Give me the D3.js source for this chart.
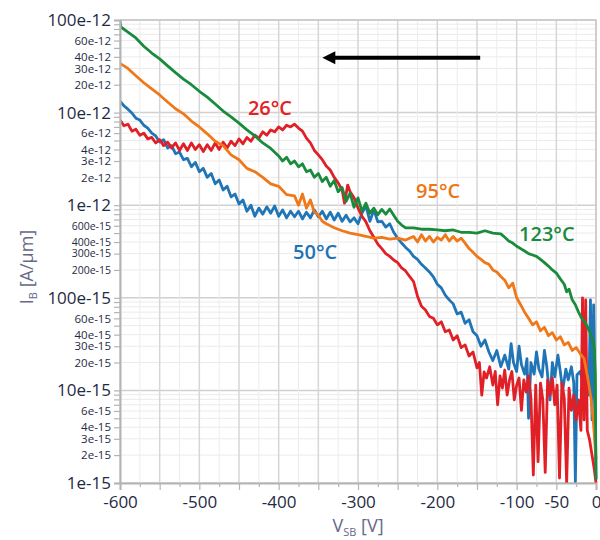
<!DOCTYPE html>
<html><head><meta charset="utf-8">
<script src="https://cdn.jsdelivr.net/npm/d3@7"></script>
<style>body{margin:0;background:#fff}svg{display:block}</style>
</head><body><svg id="c" width="600" height="540"></svg>
<script>
// ---- data (VSB in V, IB in A/um) ----
const green123 = [[-600,9.7e-11],[-599,8.4e-11],[-590,7.4e-11],[-580,6.4e-11],[-570,5.2e-11],[-560,4.4e-11],[-550,3.8e-11],[-540,3.2e-11],[-530,2.7e-11],[-520,2.3e-11],[-510,2.0e-11],[-500,1.7e-11],[-490,1.47e-11],[-480,1.24e-11],[-470,1.04e-11],
[-460,9.0e-12],[-450,7.7e-12],[-440,6.5e-12],[-430,5.6e-12],[-420,4.7e-12],[-410,4.1e-12],[-400,3.4e-12],[-395,3.0e-12],[-390,3.3e-12],[-385,2.8e-12],[-380,3.0e-12],[-375,2.6e-12],[-370,2.8e-12],[-365,2.3e-12],[-360,2.4e-12],[-355,2.0e-12],[-350,2.2e-12],[-345,1.8e-12],[-340,2.0e-12],[-335,1.6e-12],[-330,1.85e-12],
[-325,1.4e-12],[-320,1.55e-12],[-315,1.1e-12],[-310,1.35e-12],[-305,9.5e-13],[-300,1.2e-12],[-295,8.6e-13],[-290,1.05e-12],[-285,8.2e-13],[-280,9.3e-13],[-275,7.9e-13],[-270,9.0e-13],[-265,8.0e-13],[-260,9.1e-13],[-255,7.8e-13],[-250,6.7e-13],[-245,6.1e-13],[-240,5.7e-13],
[-230,5.7e-13],[-220,5.5e-13],[-210,5.5e-13],[-200,5.4e-13],[-190,5.3e-13],[-180,5.4e-13],[-170,5.1e-13],[-160,5.1e-13],[-150,5.0e-13],[-140,5.3e-13],[-130,5.0e-13],[-120,4.9e-13],
[-115,4.5e-13],[-110,4.1e-13],[-105,3.9e-13],[-100,3.6e-13],[-95,3.4e-13],[-90,3.2e-13],[-85,3.0e-13],[-80,2.9e-13],[-75,2.8e-13],[-70,2.6e-13],[-65,2.4e-13],[-60,2.2e-13],[-55,2.0e-13],[-50,1.85e-13],[-45,1.6e-13],[-40,1.4e-13],
[-37,1.16e-13],[-34,1.24e-13],[-30,9.5e-14],[-26,8.4e-14],[-22,7.0e-14],[-18,6.0e-14],[-14,5.5e-14],[-10,4.7e-14],[-7,4.1e-14],[-4,3.5e-14],[-2,2.7e-14],[-1,1.5e-14],[0,1.1e-15]];

const orange95 = [[-600,3.4e-11],[-590,3.0e-11],[-580,2.5e-11],[-570,2.1e-11],[-560,1.8e-11],[-550,1.55e-11],[-540,1.3e-11],[-530,1.1e-11],[-520,9.7e-12],[-510,8.1e-12],[-500,7.0e-12],[-490,5.9e-12],[-480,4.9e-12],[-470,4.4e-12],[-460,3.5e-12],[-450,3.1e-12],[-440,2.5e-12],[-430,2.3e-12],[-420,2.0e-12],[-410,1.7e-12],[-400,1.6e-12],[-390,1.3e-12],[-380,1.26e-12],
[-375,1.0e-12],[-370,1.32e-12],[-365,9.3e-13],[-360,1.14e-12],[-355,8.4e-13],[-350,7.8e-13],[-345,6.7e-13],[-340,6.3e-13],[-330,5.7e-13],[-320,5.3e-13],[-310,5.0e-13],[-300,4.8e-13],[-290,4.6e-13],[-280,4.4e-13],[-270,4.5e-13],[-260,4.3e-13],[-250,4.4e-13],[-240,4.2e-13],
[-230,4.6e-13],[-225,4.0e-13],[-220,4.8e-13],[-215,4.1e-13],[-210,4.6e-13],[-205,4.0e-13],[-200,4.5e-13],[-195,4.2e-13],[-190,4.8e-13],[-185,4.1e-13],[-180,4.6e-13],[-175,4.1e-13],[-170,4.4e-13],[-165,3.9e-13],[-160,3.4e-13],[-155,3.1e-13],[-150,2.8e-13],[-145,2.6e-13],[-140,2.4e-13],[-135,2.3e-13],[-130,2.0e-13],[-125,1.9e-13],[-120,1.7e-13],[-115,1.55e-13],[-110,1.28e-13],[-105,1.44e-13],[-100,1.0e-13],
[-95,8.4e-14],[-90,7.0e-14],[-85,6.0e-14],[-80,5.1e-14],[-75,5.5e-14],[-70,4.4e-14],[-65,4.8e-14],[-60,3.9e-14],[-55,4.2e-14],[-50,3.5e-14],[-45,3.8e-14],[-40,3.1e-14],[-35,3.3e-14],[-30,2.7e-14],[-25,2.9e-14],[-20,2.5e-14],[-15,2.2e-14],[-10,1.3e-14],[-6,7.9e-15],[-3,4.2e-15],[0,1.8e-15]];

const blue50 = [[-600,1.33e-11],[-595,1.18e-11],[-590,1.09e-11],[-585,9.9e-12],[-580,8.7e-12],[-575,8.3e-12],[-570,7.3e-12],[-565,6.8e-12],[-560,6.0e-12],[-555,5.6e-12],[-550,4.8e-12],[-545,5.1e-12],[-540,4.15e-12],[-535,4.4e-12],[-530,3.6e-12],[-525,3.75e-12],[-520,3.1e-12],[-515,3.2e-12],[-510,2.6e-12],[-505,2.9e-12],[-500,2.3e-12],[-495,2.5e-12],[-490,2.0e-12],[-485,2.2e-12],[-480,1.7e-12],[-475,1.87e-12],[-470,1.46e-12],[-465,1.6e-12],[-460,1.23e-12],[-455,1.32e-12],[-450,1.03e-12],[-445,1.14e-12],
[-440,8.6e-13],[-435,1.0e-12],[-430,7.6e-13],[-425,9.3e-13],[-420,8.0e-13],[-415,9.6e-13],[-410,8.2e-13],[-405,9.8e-13],[-400,7.6e-13],[-395,8.9e-13],[-390,7.3e-13],[-385,8.6e-13],[-380,7.5e-13],[-375,8.6e-13],[-370,7.1e-13],[-365,8.4e-13],[-360,7.3e-13],[-355,8.9e-13],[-350,7.5e-13],[-345,8.6e-13],[-340,7.1e-13],[-335,8.4e-13],[-330,6.9e-13],[-325,8.2e-13],[-320,6.7e-13],[-315,7.8e-13],[-310,6.6e-13],[-305,7.3e-13],[-300,6.3e-13],[-295,8.2e-13],[-290,9.8e-13],[-285,6.7e-13],[-280,8.9e-13],[-275,6.6e-13],[-270,6.7e-13],[-265,5.8e-13],[-260,6.3e-13],
[-255,5.1e-13],[-250,4.4e-13],[-245,3.9e-13],[-240,3.5e-13],[-235,3.2e-13],[-230,2.8e-13],[-225,2.6e-13],[-220,2.3e-13],[-215,2.1e-13],[-210,1.9e-13],[-205,1.68e-13],[-200,1.4e-13],[-195,1.28e-13],[-190,1.07e-13],[-185,9.5e-14],[-180,8.6e-14],[-175,6.7e-14],[-170,7.0e-14],[-165,5.3e-14],[-160,5.8e-14],[-155,4.3e-14],[-150,3.9e-14],[-145,3.0e-14],[-140,3.5e-14],[-135,2.6e-14],[-130,2.1e-14],[-125,2.7e-14],[-120,1.8e-14],[-115,2.4e-14],[-110,1.7e-14],[-107,3.2e-14],[-104,2.0e-14],[-100,1.6e-14],
[-97,3.0e-14],[-94,1.9e-14],[-90,1.5e-14],[-87,2.2e-14],[-85,5.0e-15],[-82,2.0e-14],[-78,1.5e-14],[-75,2.6e-14],[-72,1.7e-14],[-68,1.4e-14],[-65,2.7e-14],[-62,1.8e-14],[-58,7.9e-15],[-55,2.0e-14],[-52,1.4e-14],[-48,2.4e-14],[-45,1.6e-14],[-42,1.0e-14],[-38,1.7e-14],[-35,1.3e-14],[-31,1.8e-14],[-28,1.2e-14],[-26,1.03e-15],[-24,1.47e-14],[-20,1.6e-14],[-16,1.14e-14],[-12,1.3e-14],[-9,8.9e-15],[-7,9.5e-14],[-5,4.8e-15],[-3,8.4e-14],[-1,7.9e-15],[0,1.1e-15]];

const red26 = [[-600,8.3e-12],[-595,7.2e-12],[-590,7.5e-12],[-585,6.3e-12],[-580,6.6e-12],[-575,5.7e-12],[-570,6.0e-12],[-565,5.2e-12],[-560,5.4e-12],[-555,4.7e-12],[-550,5.1e-12],[-545,4.4e-12],[-540,4.8e-12],[-535,4.15e-12],[-530,4.7e-12],[-525,3.9e-12],[-520,4.6e-12],[-515,3.9e-12],[-510,4.7e-12],[-505,4.0e-12],[-500,4.5e-12],[-495,3.8e-12],[-490,4.5e-12],[-485,3.9e-12],[-480,4.7e-12],[-475,4.0e-12],[-470,4.8e-12],[-465,4.15e-12],[-460,4.9e-12],[-455,4.4e-12],[-450,5.2e-12],[-445,4.6e-12],[-440,5.4e-12],[-435,4.9e-12],[-430,5.7e-12],[-425,5.3e-12],[-420,6.2e-12],[-415,5.7e-12],[-410,6.5e-12],[-405,6.2e-12],[-400,7.0e-12],[-395,6.5e-12],[-390,7.3e-12],[-385,7.0e-12],[-380,7.5e-12],[-375,6.8e-12],[-370,6.3e-12],[-365,5.3e-12],[-360,4.7e-12],[-355,3.9e-12],[-350,3.5e-12],[-345,3.1e-12],[-340,2.65e-12],[-335,2.4e-12],[-330,2.0e-12],[-325,1.74e-12],[-320,1.46e-12],[-317,1.05e-12],[-313,1.65e-12],[-310,1.4e-12],[-305,1.2e-12],
[-300,9.3e-13],[-295,7.6e-13],[-290,6.6e-13],[-285,5.3e-13],[-280,4.5e-13],[-275,3.8e-13],[-270,3.4e-13],[-265,3.0e-13],[-260,2.8e-13],[-255,2.56e-13],[-250,2.4e-13],[-245,2.1e-13],[-240,1.95e-13],[-235,1.7e-13],[-230,1.5e-13],[-225,1.04e-13],[-220,8.1e-14],[-215,7.4e-14],[-210,6.3e-14],[-205,6.0e-14],[-200,5.1e-14],[-195,5.5e-14],[-190,4.3e-14],[-185,4.5e-14],[-180,3.5e-14],[-175,3.9e-14],[-170,2.9e-14],[-165,3.1e-14],[-160,2.35e-14],[-155,2.6e-14],[-150,1.75e-14],[-147,2.0e-14],[-144,8.9e-15],[-141,1.58e-14],[-138,1.36e-14],[-134,1.8e-14],[-130,1.14e-14],[-127,1.6e-14],[-124,7.0e-15],[-121,1.43e-14],[-118,1.06e-14],[-115,1.66e-14],[-112,8.9e-15],[-109,1.3e-14],[-106,1.6e-14],[-103,7.9e-15],[-100,1.14e-14],
[-97,1.36e-14],[-94,6.1e-15],[-91,1.3e-14],[-88,9.6e-15],[-85,1.43e-14],[-82,8.3e-15],[-79,1.22e-15],[-76,1.14e-14],[-73,1.7e-15],[-70,1.2e-14],[-67,7.9e-15],[-64,1.3e-15],[-61,1.3e-14],[-58,8.9e-15],[-55,1.36e-14],[-52,7.0e-15],[-49,1.14e-14],[-46,1.13e-15],[-43,1.2e-14],[-40,8.3e-15],[-37,1.0e-15],[-34,1.06e-14],[-31,6.1e-15],[-28,8.9e-15],[-25,4.8e-15],[-22,7.9e-15],[-19,3.7e-15],[-17,1.0e-13],[-15,4.8e-15],[-13,9.5e-14],[-11,3.7e-15],[-8,2.9e-15],[-5,2.0e-15],[-2,1.38e-15],[0,1.0e-15]];

const seriesNames = ["50°C","26°C","95°C","123°C"];
const seriesData = [blue50, red26, orange95, green123];
const seriesColors = ["#1f75b6","#e01f26","#f07818","#1a8b3d"];
// label anchor positions (VSB, IB) for the in-plot temperature labels
const labelPos = [[-354,2.6e-13],[-411,9.4e-12],[-199,1.2e-12],[-62,4.1e-13]];
const labelColors = ["#1f72b8","#e02227","#ee7414","#1b8a3f"];

const xTickValues = [-600,-500,-400,-300,-200,-100,-50,0];
const xTickLabels = ["-600","-500","-400","-300","-200","-100","-50","0"];
const yDecades = [1e-15,1e-14,1e-13,1e-12,1e-11,1e-10];
const yTickValues = [1e-10,6e-11,4e-11,3e-11,2e-11,1e-11,6e-12,4e-12,3e-12,2e-12,1e-12,6e-13,4e-13,3e-13,2e-13,1e-13,6e-14,4e-14,3e-14,2e-14,1e-14,6e-15,4e-15,3e-15,2e-15,1e-15];
const yTickLabels = ["100e-12","60e-12","40e-12","30e-12","20e-12","10e-12","6e-12","4e-12","3e-12","2e-12","1e-12","600e-15","400e-15","300e-15","200e-15","100e-15","60e-15","40e-15","30e-15","20e-15","10e-15","6e-15","4e-15","3e-15","2e-15","1e-15"];
const arrowFrom = [-146, 3.9e-11];
const arrowTo = [-345, 3.9e-11];

// ---- chart ----
const svg = d3.select("#c");
const L = 120, R = 596, T = 20, B = 483;
const x = d3.scaleLinear().domain([-600,0]).range([L,R]);
const y = d3.scaleLog().domain([1e-15,1e-10]).range([B,T]);
const font = "'Open Sans', 'Noto Sans', sans-serif";
const tickCol = "#1f2a44";

// minor log ticks 1..9 per decade
const yAllTicks = [];
yDecades.slice(0,-1).forEach(d => { for (let m=1;m<=9;m++) yAllTicks.push(m*d); });
yAllTicks.push(1e-10);
const xGrid = d3.range(-600, 1, 25);
const isDecade = v => yDecades.some(k=>Math.abs(k/v-1)<1e-6);

const grid = svg.append("g");
grid.selectAll("line.hx").data(yAllTicks).join("line")
  .attr("x1",L).attr("x2",R).attr("y1",d=>y(d)).attr("y2",d=>y(d))
  .attr("stroke", d => isDecade(d) ? "#d0d0d0" : "#ebebeb")
  .attr("stroke-width", d => isDecade(d) ? 1.5 : 1);
grid.selectAll("line.vx").data(xGrid).join("line")
  .attr("y1",T).attr("y2",B).attr("x1",d=>x(d)).attr("x2",d=>x(d))
  .attr("stroke", d => d%50===0 ? "#d6d6d6" : "#ececec")
  .attr("stroke-width", d => d%50===0 ? 1.5 : 1);

// border top/right
svg.append("path").attr("d",`M${L},${T}H${R}V${B}`).attr("fill","none").attr("stroke","#c8c8c8").attr("stroke-width",1.5);

// clip
svg.append("clipPath").attr("id","clip").append("rect").attr("x",L).attr("y",T-2).attr("width",R-L+2).attr("height",B-T+3);

const line = d3.line().x(d=>x(d[0])).y(d=>y(d[1]));
svg.append("g").attr("clip-path","url(#clip)").selectAll("path").data(seriesData).join("path")
  .attr("d", line).attr("fill","none")
  .attr("stroke",(d,i)=>seriesColors[i]).attr("stroke-width",2.8)
  .attr("stroke-linejoin","round");

// axes
const yLabelMap = new Map(yTickValues.map((v,i)=>[v.toExponential(3), yTickLabels[i]]));
const yAxis = d3.axisLeft(y).tickValues(yAllTicks).tickSize(6).tickPadding(3)
  .tickFormat(v => yLabelMap.get(v.toExponential(3)) || "");
const gy = svg.append("g").attr("transform",`translate(${L},0)`).call(yAxis);
gy.select(".domain").attr("stroke","#b4b4b4").attr("stroke-width",2);
gy.selectAll(".tick line").attr("stroke","#b4b4b4").attr("stroke-width",1.2);
gy.selectAll(".tick text").attr("fill",tickCol).attr("font-family",font)
  .attr("font-size", function(v){ const t=d3.select(this).text(); return isDecade(v) ? 17 : (t.length>=7 ? 10.5 : 11.5); });

const xLabelMap = new Map(xTickValues.map((v,i)=>[v, xTickLabels[i]]));
const xAxis = d3.axisBottom(x).tickValues(xGrid).tickSize(7).tickPadding(6)
  .tickFormat(v => xLabelMap.has(v) ? xLabelMap.get(v) : "");
const gx = svg.append("g").attr("transform",`translate(0,${B})`).call(xAxis);
gx.select(".domain").attr("stroke","#b4b4b4").attr("stroke-width",2);
gx.selectAll(".tick line").attr("stroke","#b4b4b4").attr("stroke-width",1.2)
  .attr("y2", v => v%50===0 ? 7 : 4);
gx.selectAll(".tick text").attr("fill",tickCol).attr("font-family",font).attr("font-size",17);

// axis titles
const xt = svg.append("text").attr("x",x(-300)).attr("y",532).attr("text-anchor","middle")
  .attr("font-family",font).attr("font-size",18).attr("fill","#66688a");
xt.append("tspan").text("V");
xt.append("tspan").attr("font-size",11).attr("dy",4).text("SB");
xt.append("tspan").attr("dy",-4).text(" [V]");

const yt = svg.append("text").attr("transform","translate(33,267) rotate(-90)").attr("text-anchor","middle")
  .attr("font-family",font).attr("font-size",18).attr("fill","#66688a");
yt.append("tspan").text("I");
yt.append("tspan").attr("font-size",11).attr("dy",4).text("B");
yt.append("tspan").attr("dy",-4).text(" [A/μm]");

// temperature labels
svg.selectAll("text.lab").data(seriesNames).join("text").attr("class","lab")
  .attr("x",(d,i)=>x(labelPos[i][0])).attr("y",(d,i)=>y(labelPos[i][1]))
  .attr("text-anchor","middle").attr("font-family",font).attr("font-weight",600)
  .attr("font-size",20).attr("fill",(d,i)=>labelColors[i]).text(d=>d);

// arrow
const ax1 = x(arrowFrom[0]), ax2 = x(arrowTo[0]), ay = y(arrowFrom[1]);
svg.append("line").attr("x1",ax1).attr("x2",ax2+10).attr("y1",ay).attr("y2",ay)
  .attr("stroke","#000").attr("stroke-width",4);
svg.append("path").attr("d",`M${ax2},${ay}L${ax2+13},${ay-6.5}L${ax2+13},${ay+6.5}Z`).attr("fill","#000");
</script></body></html>
